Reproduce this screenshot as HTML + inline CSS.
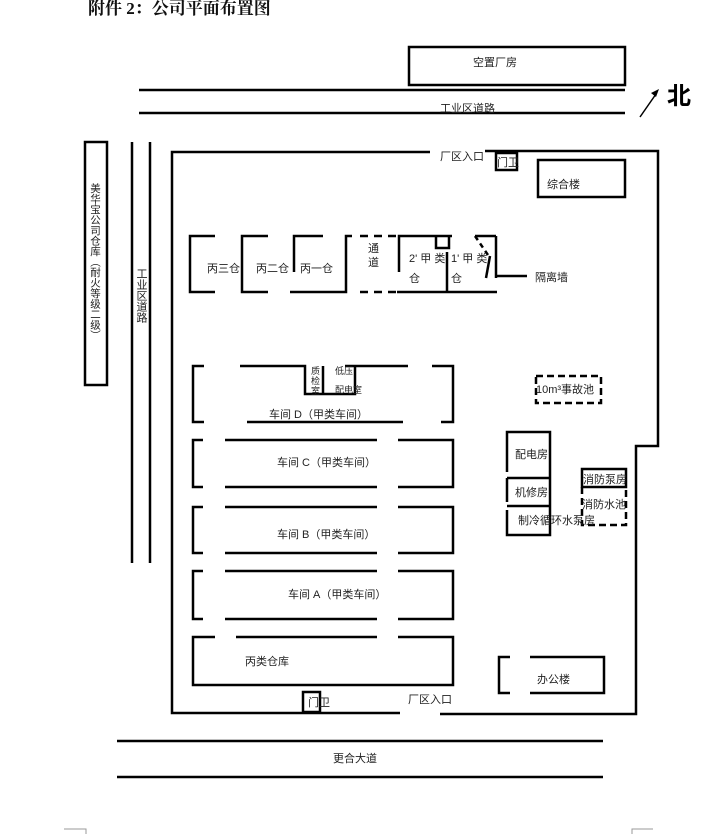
<!DOCTYPE html>
<html><head><meta charset="utf-8"><style>
html,body{margin:0;padding:0;background:#fff;}
svg{display:block;}
text{font-family:"Liberation Sans","Noto Sans CJK SC",sans-serif;font-size:11px;fill:#222;}
</style></head><body>
<svg width="710" height="834" viewBox="0 0 710 834" xmlns="http://www.w3.org/2000/svg">
<text x="88" y="14" style="font-family:'Liberation Serif','Noto Serif CJK SC',serif;font-size:17px;font-weight:bold;fill:#111">附件 2：公司平面布置图</text>
<g stroke="#000" stroke-width="2.5" fill="none">
<rect x="409" y="47" width="216" height="38"/>
<line x1="139" y1="90" x2="625" y2="90"/>
<line x1="139" y1="113" x2="625" y2="113"/>
<line x1="640" y1="117" x2="656" y2="94" stroke-width="1.5"/>
<rect x="85" y="142" width="22" height="243"/>
<line x1="132" y1="142" x2="132" y2="563"/>
<line x1="150" y1="142" x2="150" y2="563"/>
<polyline points="430,152 172,152 172,713 400,713"/>
<polyline points="485,151 658,151 658,446 636,446 636,714 440,714"/>
<rect x="496" y="153" width="21" height="17"/>
<rect x="538" y="160" width="87" height="37"/>
<path d="M215,236H190V292H215 M268,236H242V292H268 M323,236H294V272 M290,292H346V236H352 M397,292H497 M399,272V236H452 M447,252V292 M436,236V248H449V236 M496,236V278 M496,276H527 M475,236H496"/>
<path d="M360,236H397 M360,292H397" stroke-dasharray="8,6"/>
<path d="M475,236L490,258" stroke-dasharray="5,4"/>
<path d="M490,256L486,278"/>
<path d="M204,366H193V422H204 M240,366H305V394H323V366 M305,366V394 M323,394H355V366H345 M345,366H408 M432,366H453V422H441 M247,422H403"/>
<path d="M203,440H193V487H203 M225,440H377 M398,440H453V487H398 M225,487H377"/>
<path d="M203,507H193V553H203 M225,507H377 M398,507H453V553H398 M225,553H377"/>
<path d="M203,571H193V619H203 M225,571H377 M398,571H453V619H398 M225,619H377"/>
<path d="M215,637H193V685H453V637H398 M236,637H377"/>
<rect x="536" y="376" width="65" height="27" stroke-dasharray="7,4"/>
<path d="M507,472V432H550V535H507V510 M507,502V478 M507,478H550 M507,506H550"/>
<rect x="582" y="469" width="44" height="18"/>
<path d="M582,487V525H626V487" stroke-dasharray="7,4"/>
<path d="M510,657H499V693H510 M530,657H604V693H530"/>
<rect x="303" y="692" width="17" height="20"/>
<line x1="117" y1="741" x2="603" y2="741"/>
<line x1="117" y1="777" x2="603" y2="777"/>
</g>
<polygon points="659,89 651,93 656,97" fill="#000"/>
<g stroke="#999" stroke-width="1" fill="none">
<path d="M64,829H86V834 M632,834V829H653"/>
</g>
<text x="667" y="104" style="font-size:24px;font-weight:bold;fill:#000">北</text>
<text x="473" y="66">空置厂房</text>
<text x="440" y="112">工业区道路</text>
<text x="440" y="160">厂区入口</text>
<text x="497" y="166">门卫</text>
<text x="547" y="188">综合楼</text>
<text x="95" y="183" style="writing-mode:vertical-rl;font-size:10.5px">美华宝公司仓库（耐火等级二级）</text>
<text x="141" y="268" style="writing-mode:vertical-rl">工业区道路</text>
<text x="207" y="272">丙三仓</text>
<text x="256" y="272">丙二仓</text>
<text x="300" y="272">丙一仓</text>
<text x="368" y="252">通</text>
<text x="368" y="266">道</text>
<text x="409" y="262">2' 甲 类</text>
<text x="409" y="282">仓</text>
<text x="451" y="262">1' 甲 类</text>
<text x="451" y="282">仓</text>
<text x="535" y="281">隔离墙</text>
<text x="311" y="374" style="font-size:9px">质</text>
<text x="311" y="384" style="font-size:9px">检</text>
<text x="311" y="394" style="font-size:9px">室</text>
<text x="335" y="374" style="font-size:9px">低压</text>
<text x="335" y="393" style="font-size:9px">配电室</text>
<text x="269" y="418">车间 D（甲类车间）</text>
<text x="277" y="466">车间 C（甲类车间）</text>
<text x="277" y="538">车间 B（甲类车间）</text>
<text x="288" y="598">车间 A（甲类车间）</text>
<text x="245" y="665">丙类仓库</text>
<text x="536" y="393">10m³事故池</text>
<text x="515" y="458">配电房</text>
<text x="515" y="496">机修房</text>
<text x="518" y="524">制冷循环水泵房</text>
<text x="583" y="483">消防泵房</text>
<text x="582" y="508">消防水池</text>
<text x="537" y="683">办公楼</text>
<text x="308" y="706">门卫</text>
<text x="408" y="703">厂区入口</text>
<text x="333" y="762">更合大道</text>
</svg>
</body></html>
